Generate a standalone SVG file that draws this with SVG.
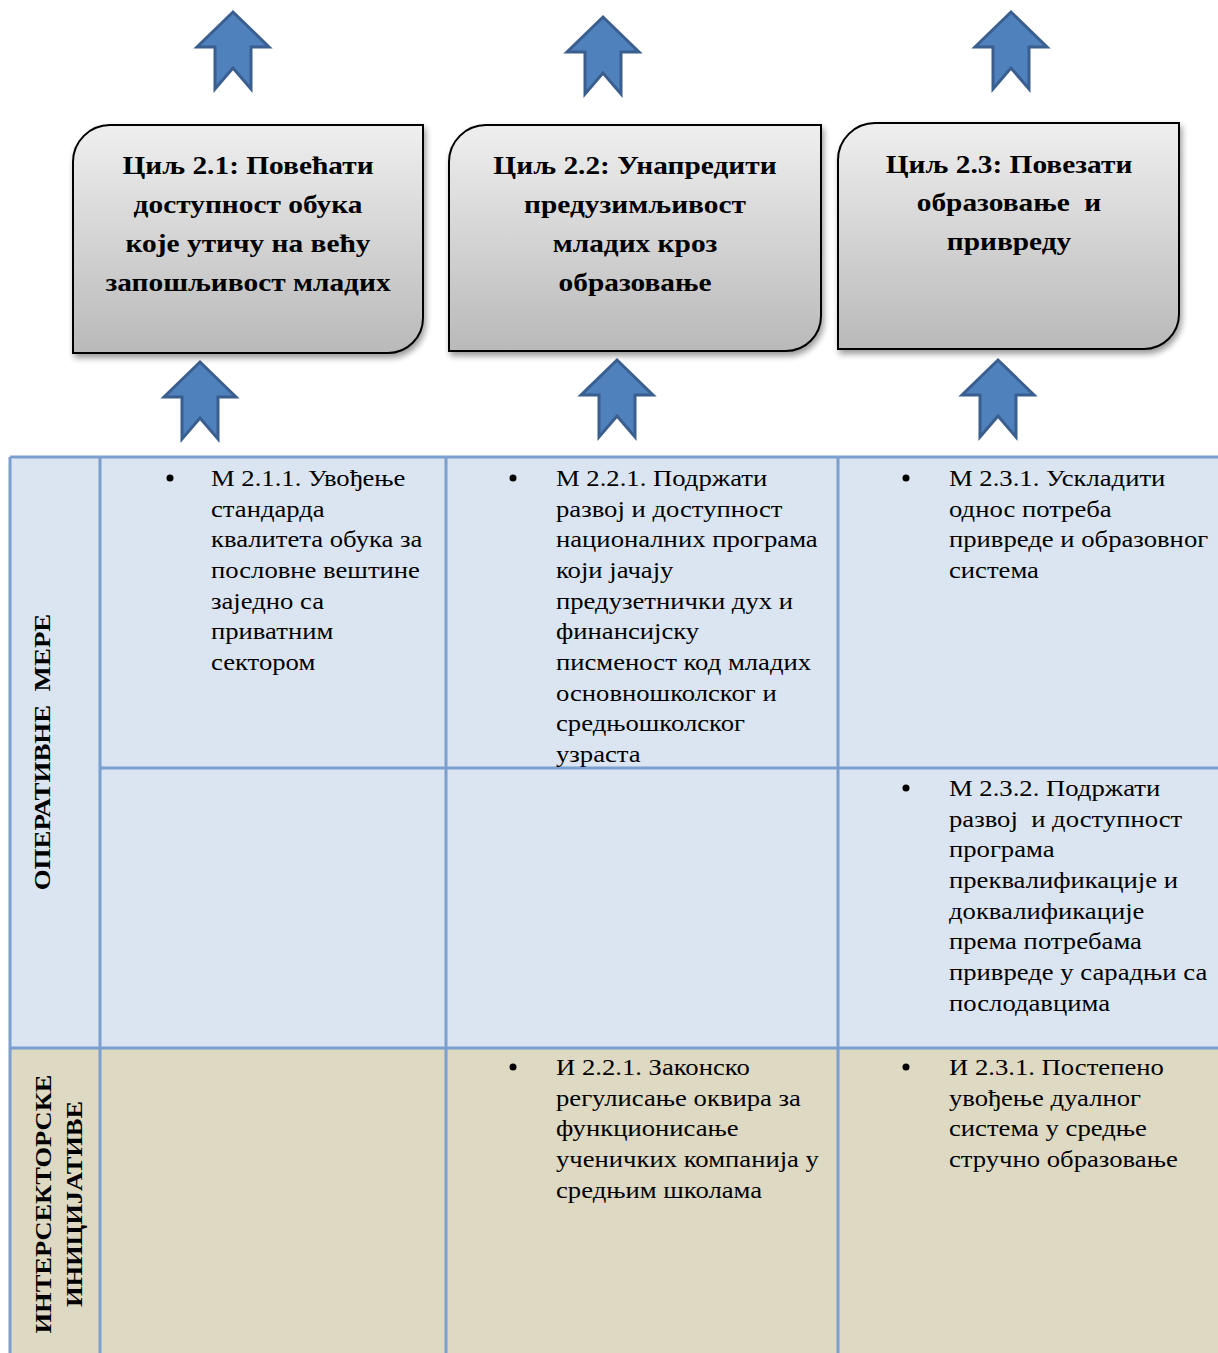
<svg xmlns="http://www.w3.org/2000/svg" width="1218" height="1353" viewBox="0 0 1218 1353">
<style>
.goal{font-family:"Liberation Serif","Times New Roman",serif;font-weight:bold;font-size:26px;fill:#000;text-anchor:middle}
.cell{font-family:"Liberation Serif","Times New Roman",serif;font-size:23px;fill:#000}
.hdr{font-family:"Liberation Serif","Times New Roman",serif;font-weight:bold;font-size:23px;fill:#000;text-anchor:middle}
.arrow{fill:#4f81bd;stroke:#3a5f8f;stroke-width:3;stroke-linejoin:miter}
.box{stroke:#000;stroke-width:2;fill:url(#g)}
.grid{stroke:#7b9fcf;stroke-width:3;fill:none}
</style>
<defs>
<linearGradient id="g" x1="0" y1="0" x2="0" y2="1">
<stop offset="0" stop-color="#efefef"/>
<stop offset="1" stop-color="#b9b9b9"/>
</linearGradient>
<filter id="sh" x="-10%" y="-10%" width="130%" height="130%">
<feGaussianBlur in="SourceAlpha" stdDeviation="3"/>
<feOffset dx="2" dy="4"/>
<feComponentTransfer><feFuncA type="linear" slope="0.4"/></feComponentTransfer>
<feMerge><feMergeNode/><feMergeNode in="SourceGraphic"/></feMerge>
</filter>
<path id="arr" d="M0,0 L36,35 L18,35 L18,77 L0,56 L-18,77 L-18,35 L-36,35 Z"/>
</defs>
<rect width="1218" height="1353" fill="#fff"/>

<g id="connectors">
<use href="#arr" class="arrow" transform="translate(233,12)"/>
<use href="#arr" class="arrow" transform="translate(603,17)"/>
<use href="#arr" class="arrow" transform="translate(1011,12)"/>
<use href="#arr" class="arrow" transform="translate(200,362)"/>
<use href="#arr" class="arrow" transform="translate(617,360)"/>
<use href="#arr" class="arrow" transform="translate(998,360)"/>
</g>

<g id="goal1">
<path class="box" filter="url(#sh)" d="M110,125 H423 V318 A35,35 0 0 1 388,353 H73 V162 A37,37 0 0 1 110,125 Z"/>
<g transform="translate(248,0) scale(1.13,1)">
<text class="goal" x="0" y="174">Циљ 2.1: Повећати</text>
<text class="goal" x="0" y="213">доступност обука</text>
<text class="goal" x="0" y="252">које утичу на већу</text>
<text class="goal" x="0" y="291">запошљивост младих</text>
</g>
</g>
<g id="goal2">
<path class="box" filter="url(#sh)" d="M486,125 H821 V316 A35,35 0 0 1 786,351 H449 V162 A37,37 0 0 1 486,125 Z"/>
<g transform="translate(635,0) scale(1.13,1)">
<text class="goal" x="0" y="174">Циљ 2.2: Унапредити</text>
<text class="goal" x="0" y="213">предузимљивост</text>
<text class="goal" x="0" y="252">младих кроз</text>
<text class="goal" x="0" y="291">образовање</text>
</g>
</g>
<g id="goal3">
<path class="box" filter="url(#sh)" d="M875,123 H1179 V314 A35,35 0 0 1 1144,349 H838 V160 A37,37 0 0 1 875,123 Z"/>
<g transform="translate(1009,0) scale(1.13,1)">
<text class="goal" x="0" y="173">Циљ 2.3: Повезати</text>
<text class="goal" x="0" y="211" xml:space="preserve">образовање  и</text>
<text class="goal" x="0" y="250">привреду</text>
</g>
</g>

<g id="table">
<rect x="10" y="457" width="1210" height="591" fill="#dbe5f1"/>
<rect x="10" y="1048" width="1210" height="310" fill="#ddd9c3"/>
<path class="grid" d="M10,457 H1220 M100,768 H1220 M10,1048 H1220 M10,457 V1355 M100,457 V1355 M446,457 V1355 M838,457 V1355"/>
</g>

<g id="hdr-op">
<text class="hdr" transform="translate(50,752) rotate(-90) scale(1.17,1)" xml:space="preserve">ОПЕРАТИВНЕ  МЕРЕ</text>
</g>
<g id="hdr-int">
<text class="hdr" transform="translate(51,1204) rotate(-90) scale(1.15,1)">ИНТЕРСЕКТОРСКЕ</text>
<text class="hdr" transform="translate(82,1204) rotate(-90) scale(1.15,1)">ИНИЦИЈАТИВЕ</text>
</g>

<g id="m211">
<circle cx="170" cy="478" r="3.5"/>
<g transform="translate(211,0) scale(1.16,1)">
<text class="cell" x="0" y="486">М 2.1.1. Увођење</text>
<text class="cell" x="0" y="517">стандарда</text>
<text class="cell" x="0" y="547">квалитета обука за</text>
<text class="cell" x="0" y="578">пословне вештине</text>
<text class="cell" x="0" y="609">заједно са</text>
<text class="cell" x="0" y="639">приватним</text>
<text class="cell" x="0" y="670">сектором</text>
</g>
</g>
<g id="m221">
<circle cx="513" cy="478" r="3.5"/>
<g transform="translate(556,0) scale(1.16,1)">
<text class="cell" x="0" y="486">М 2.2.1. Подржати</text>
<text class="cell" x="0" y="517">развој и доступност</text>
<text class="cell" x="0" y="547">националних програма</text>
<text class="cell" x="0" y="578">који јачају</text>
<text class="cell" x="0" y="609">предузетнички дух и</text>
<text class="cell" x="0" y="639">финансијску</text>
<text class="cell" x="0" y="670">писменост код младих</text>
<text class="cell" x="0" y="701">основношколског и</text>
<text class="cell" x="0" y="731">средњошколског</text>
<text class="cell" x="0" y="762">узраста</text>
</g>
</g>
<g id="m231">
<circle cx="906" cy="478" r="3.5"/>
<g transform="translate(949,0) scale(1.16,1)">
<text class="cell" x="0" y="486">М 2.3.1. Ускладити</text>
<text class="cell" x="0" y="517">однос потреба</text>
<text class="cell" x="0" y="547">привреде и образовног</text>
<text class="cell" x="0" y="578">система</text>
</g>
</g>
<g id="m232">
<circle cx="906" cy="788" r="3.5"/>
<g transform="translate(949,0) scale(1.16,1)">
<text class="cell" x="0" y="796">М 2.3.2. Подржати</text>
<text class="cell" x="0" y="827" xml:space="preserve">развој  и доступност</text>
<text class="cell" x="0" y="857">програма</text>
<text class="cell" x="0" y="888">преквалификације и</text>
<text class="cell" x="0" y="919">доквалификације</text>
<text class="cell" x="0" y="949">према потребама</text>
<text class="cell" x="0" y="980">привреде у сарадњи са</text>
<text class="cell" x="0" y="1011">послодавцима</text>
</g>
</g>
<g id="i221">
<circle cx="513" cy="1067" r="3.5"/>
<g transform="translate(556,0) scale(1.16,1)">
<text class="cell" x="0" y="1075">И 2.2.1. Законско</text>
<text class="cell" x="0" y="1106">регулисање оквира за</text>
<text class="cell" x="0" y="1136">функционисање</text>
<text class="cell" x="0" y="1167">ученичких компанија у</text>
<text class="cell" x="0" y="1198">средњим школама</text>
</g>
</g>
<g id="i231">
<circle cx="906" cy="1067" r="3.5"/>
<g transform="translate(949,0) scale(1.16,1)">
<text class="cell" x="0" y="1075">И 2.3.1. Постепено</text>
<text class="cell" x="0" y="1106">увођење дуалног</text>
<text class="cell" x="0" y="1136">система у средње</text>
<text class="cell" x="0" y="1167">стручно образовање</text>
</g>
</g>
</svg>
